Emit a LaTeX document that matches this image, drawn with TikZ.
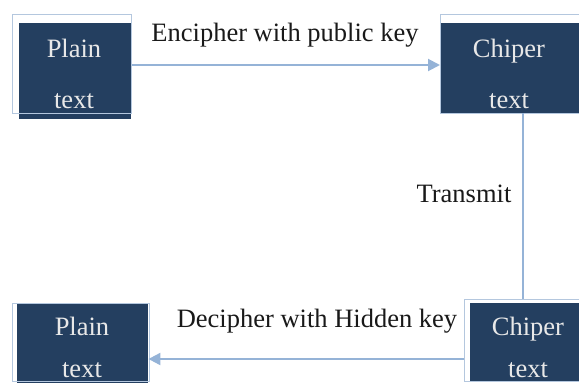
\documentclass[tikz,border=0pt]{standalone}
\usepackage{fontspec}
\setmainfont{Liberation Serif}
\usetikzlibrary{arrows.meta}
\definecolor{boxnavy}{HTML}{243F60}
\definecolor{framegray}{HTML}{B4C7DE}
\definecolor{flowblue}{HTML}{95B3D7}
\definecolor{boxtext}{HTML}{E8E8E8}
\tikzset{
  darkbox/.style={draw=none, fill=boxnavy, inner sep=0pt, anchor=north west},
  framebox/.style={draw=framegray, line width=1.2pt, inner sep=0pt, anchor=north west},
  boxlabel/.style={text=boxtext, anchor=base, inner sep=0pt, font=\fontsize{26.5}{30}\selectfont},
  steplabel/.style={text=black!90, anchor=base, inner sep=0pt, font=\fontsize{26.5}{30}\selectfont},
  flow/.style={draw=flowblue, line width=2pt},
  flowarrow/.style={flow, -{Triangle[length=12pt, width=12pt]}}
}
\begin{document}
\begin{tikzpicture}[x=1pt, y=-1pt]
  \useasboundingbox (0,0) rectangle (579,383);

  % dark boxes
  \node[darkbox, minimum width=112pt, minimum height=96pt] (tlbox) at (19,23) {};
  \node[darkbox, minimum width=150pt, minimum height=90pt] (trbox) at (440,23) {};
  \node[darkbox, minimum width=131pt, minimum height=80pt] (blbox) at (17,303) {};
  \node[darkbox, minimum width=120pt, minimum height=78pt] (brbox) at (470,303) {};

  % light frames around the boxes
  \node[framebox, minimum width=119pt, minimum height=99pt] (tlframe) at (12,14) {};
  \node[framebox, minimum width=150pt, minimum height=99pt] (trframe) at (440,14) {};
  \node[framebox, minimum width=137pt, minimum height=78pt] (blframe) at (12,303) {};
  \node[framebox, minimum width=130pt, minimum height=82pt] (brframe) at (464,299) {};

  % box texts
  \node[boxlabel] (tl1) at (74,57) {Plain};
  \node[boxlabel] (tl2) at (74,108) {text};
  \node[boxlabel] (tr1) at (509,57) {Chiper};
  \node[boxlabel] (tr2) at (509,108) {text};
  \node[boxlabel] (bl1) at (82,335) {Plain};
  \node[boxlabel] (bl2) at (82,377) {text};
  \node[boxlabel] (br1) at (528,335) {Chiper};
  \node[boxlabel] (br2) at (528,377) {text};

  % step labels
  \node[steplabel] (enc) at (285,41) {Encipher with public key};
  \node[steplabel] (tra) at (464,202) {Transmit};
  \node[steplabel] (dec) at (317,327) {Decipher with Hidden key};

  % connectors
  \coordinate (topy) at (0,65);
  \coordinate (boty) at (0,359);
  \coordinate (vx) at (523,0);
  \draw[flowarrow] (tlframe.east |- topy) -- (trframe.west |- topy);
  \draw[flow] (trbox.south -| vx) -- (brframe.north -| vx);
  \draw[flowarrow] (brframe.west |- boty) -- (blbox.east |- boty);
\end{tikzpicture}
\end{document}
